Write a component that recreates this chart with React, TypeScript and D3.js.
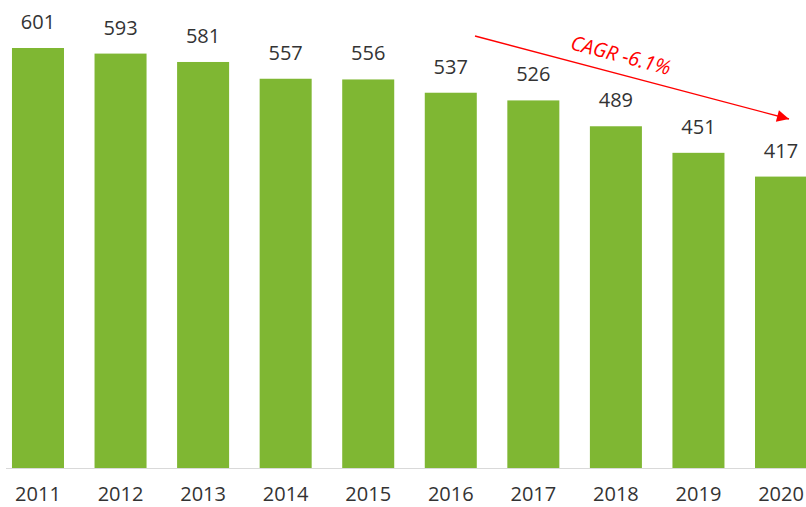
import React from "react";
import * as d3 from "d3";

const years = ["2011", "2012", "2013", "2014", "2015", "2016", "2017", "2018", "2019", "2020"];
const values = [601, 593, 581, 557, 556, 537, 526, 489, 451, 417];
const cagrLabel = "CAGR -6.1%";

const W = 806;
const H = 507;

export default function App() {
  const x = d3.scaleBand<string>().domain(years).range([-3.3, 822.3]).paddingInner(0.37).paddingOuter(0.185);
  const y = d3.scaleLinear().domain([0, 601]).range([468, 48]);
  const font = "'Open Sans', 'Noto Sans', sans-serif";
  const ax0 = 475, ay0 = 36, ax1 = 789, ay1 = 119;
  const ang = (Math.atan2(ay1 - ay0, ax1 - ax0) * 180) / Math.PI;
  return (
    <svg width={W} height={H} style={{ position: "absolute", left: 0, top: 0 }}>
      <defs>
        <marker id="arr" viewBox="0 0 10 10" refX="10" refY="5" markerWidth="13" markerHeight="12" markerUnits="userSpaceOnUse" orient="auto">
          <path d="M0,0 L10,5 L0,10 z" fill="#ff0000" />
        </marker>
      </defs>
      <rect width={W} height={H} fill="#fff" />
      {years.map((yr, i) => (
        <rect key={yr} x={x(yr)} y={y(values[i])} width={x.bandwidth()} height={y(0) - y(values[i])} fill="#7fb733" />
      ))}
      <line x1={6} x2={W} y1={468.5} y2={468.5} stroke="#d9d9d9" strokeWidth={1} />
      {years.map((yr, i) => (
        <text key={"v" + yr} x={(x(yr) as number) + x.bandwidth() / 2} y={y(values[i]) - 19} textAnchor="middle" fontFamily={font} fontSize={20} fill="#333">
          {values[i]}
        </text>
      ))}
      {years.map((yr) => (
        <text key={"t" + yr} x={(x(yr) as number) + x.bandwidth() / 2} y={501} textAnchor="middle" fontFamily={font} fontSize={20} fill="#333">
          {yr}
        </text>
      ))}
      <line x1={ax0} y1={ay0} x2={ax1} y2={ay1} stroke="#ff0000" strokeWidth={1.3} markerEnd="url(#arr)" />
      <text transform={`translate(619,62) rotate(${ang})`} textAnchor="middle" fontFamily={font} fontStyle="italic" fontSize={20} fill="#ff0000">
        {cagrLabel}
      </text>
    </svg>
  );
}
